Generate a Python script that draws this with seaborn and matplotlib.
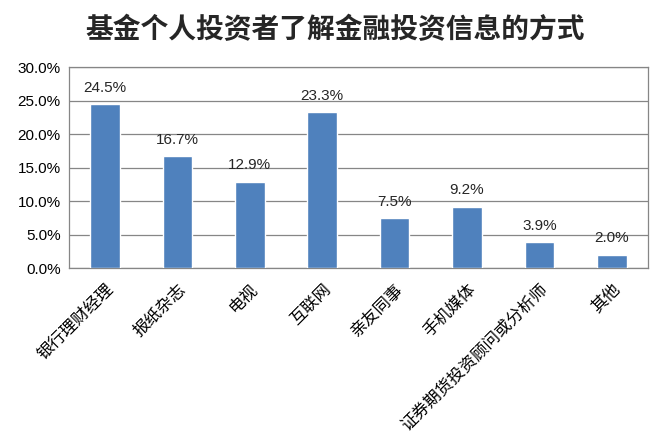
import pandas as pd
import matplotlib.pyplot as plt
import seaborn as sns
from matplotlib.ticker import PercentFormatter

# --- chart data ---
channels = ["银行理财经理", "报纸杂志", "电视", "互联网", "亲友同事", "手机媒体",
            "证券期货投资顾问或分析师", "其他"]
shares = [24.5, 16.7, 12.9, 23.3, 7.5, 9.2, 3.9, 2.0]

df = pd.DataFrame({"channel": channels, "share": shares})

sns.set_style("white")
plt.rcParams["font.family"] = ["Liberation Sans", "Noto Sans CJK SC", "DejaVu Sans"]

fig = plt.figure(figsize=(6.7, 4.47), dpi=100)
ax = fig.add_axes([0.103, 0.4, 0.864, 0.45])

sns.barplot(data=df, x="channel", y="share", color="#4F81BD", saturation=1,
            width=0.41, ax=ax, zorder=3)

ax.set_ylim(0, 30)
ax.set_yticks(range(0, 31, 5))
ax.yaxis.set_major_formatter(PercentFormatter(decimals=1))
ax.grid(axis="y", color="#868686", linewidth=0.9, zorder=0)
for s in ax.spines.values():
    s.set_color("#868686")
    s.set_linewidth(0.9)
ax.tick_params(axis="y", length=0, labelsize=11, colors="#000000", pad=6)
ax.tick_params(axis="x", length=0, labelsize=12, colors="#000000", pad=9)
ax.set_xlabel("")
ax.set_ylabel("")
plt.setp(ax.get_xticklabels(), rotation=45, ha="right", rotation_mode="anchor",
         family=["Noto Sans CJK SC", "DejaVu Sans"])

for i, v in enumerate(shares):
    ax.text(i, v + 1.4, f"{v:.1f}%", ha="center", va="bottom", fontsize=11, zorder=4)

fig.suptitle("基金个人投资者了解金融投资信息的方式", x=0.5, y=0.965,
             fontsize=20, fontweight="bold", family=["Noto Sans CJK SC", "DejaVu Sans"])

plt.savefig("out.png", dpi=100)
plt.close()
